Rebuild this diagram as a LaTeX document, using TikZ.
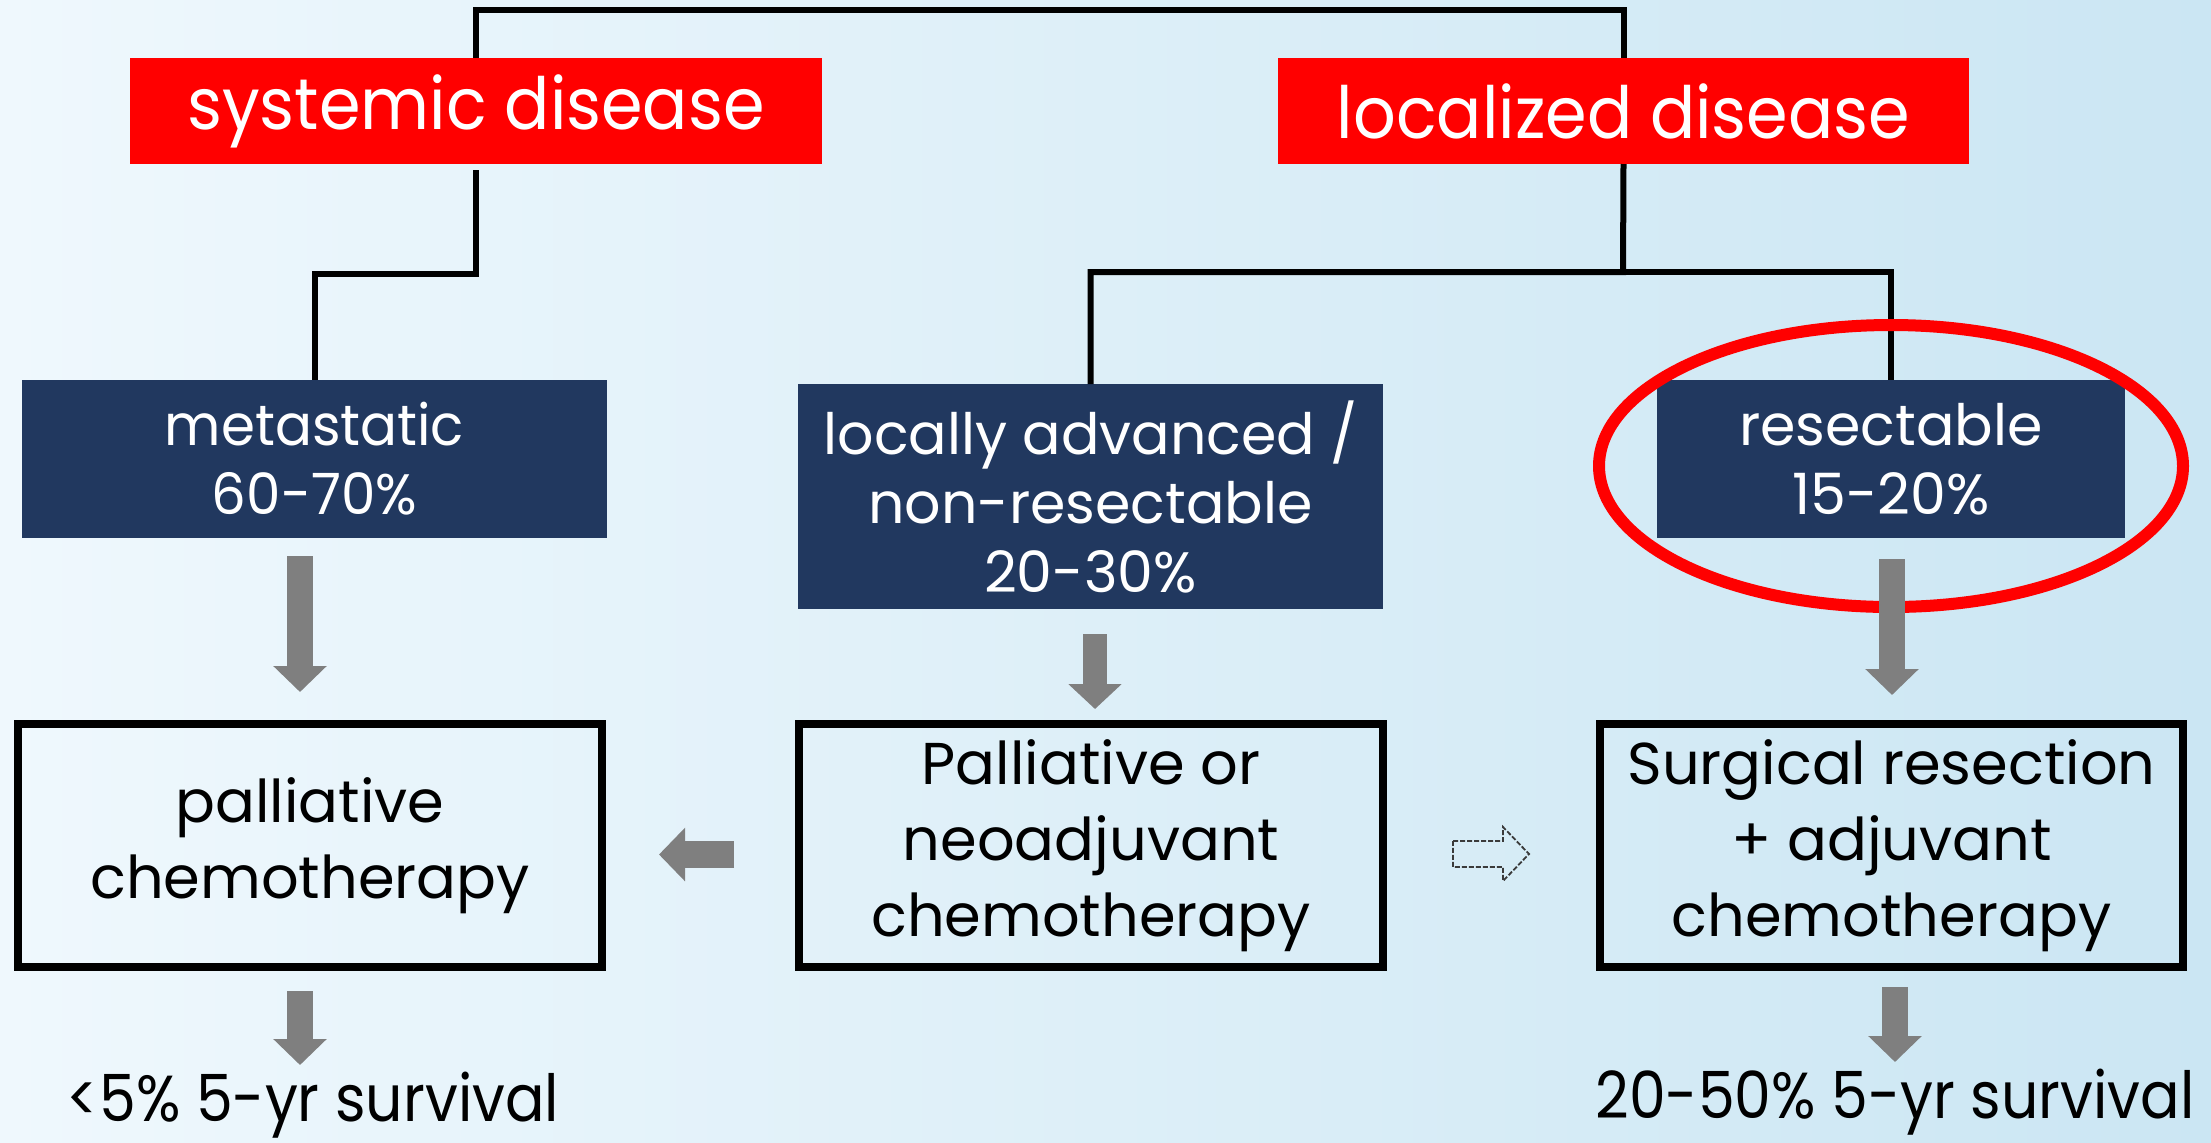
\documentclass[tikz,border=0pt]{standalone}
\usepackage{fontspec}
\setmainfont{Poppins}
\newfontfamily\redfont[FakeStretch=0.93]{Poppins}
\newfontfamily\survfont[FakeStretch=0.9]{Poppins}
\newfontfamily\metfont[FakeStretch=0.96]{Poppins}
\usetikzlibrary{arrows.meta,calc}
\definecolor{navy}{HTML}{21385F}
\definecolor{bgl}{HTML}{EFF8FD}
\definecolor{bgr}{HTML}{CBE6F3}
\definecolor{garr}{HTML}{7F7F7F}
\definecolor{dasharr}{HTML}{3A3A3A}
\begin{document}
\begin{tikzpicture}[x=0.5pt,y=-0.5pt,
  redbox/.style={fill=red, text=white, minimum width=346pt, minimum height=53pt, inner sep=0pt, outer sep=0pt, font=\redfont\fontsize{36}{40}\selectfont},
  navybox/.style={fill=navy, text=white, inner sep=0pt, outer sep=0pt, align=center, font=\fontsize{28.5}{34.5}\selectfont},
  outbox/.style={draw=black, line width=4pt, inner sep=0pt, outer sep=0pt, align=center, minimum width=292pt, minimum height=121.5pt, font=\fontsize{29.5}{38}\selectfont},
  tree/.style={line width=3pt},
  garrow/.style={draw=garr, line width=13pt, -{Triangle[length=13pt,width=26pt]}},
  hollowarrow/.style={draw=dasharr, line width=0.9pt, dash pattern=on 2.5pt off 1pt},
  survtext/.style={inner sep=0pt, outer sep=0pt, anchor=base, font=\survfont\fontsize{32.5}{36}\selectfont}
]
% background
\fill[left color=bgl, right color=bgr] (0,0) rectangle (2211,1142);
\useasboundingbox (0,0) rectangle (2211,1142);

% nodes
\node[redbox] (sys) at (476,111) {systemic disease};
\node[redbox, minimum width=345.5pt] (loc) at (1623.5,111) {localized disease};
\node[navybox, minimum width=292.5pt, minimum height=79pt, font=\metfont\fontsize{28.5}{34.5}\selectfont] (met) at (314.5,459) {metastatic\\60-70\%};
\node[navybox, minimum width=292.5pt, minimum height=112.5pt] (lan) at (1090.5,496.5) {locally advanced /\\non-resectable\\20-30\%};
\node[navybox, minimum width=234pt, minimum height=79pt] (res) at (1891,459) {resectable\\15-20\%};
\node[outbox] (pal) at (310,845.5) {palliative\\chemotherapy};
\node[outbox] (neo) at (1091,845.5) {Palliative or\\neoadjuvant\\chemotherapy};
\node[outbox, minimum width=291.5pt] (sur) at (1891.5,845.5) {Surgical resection\\+ adjuvant\\chemotherapy};
\node[survtext] (s1) at (313,1121) {<5\% 5-yr survival};
\node[survtext] (s2) at (1895,1118) {20-50\% 5-yr survival};

% tree connectors
\coordinate (t1) at (1050,10);
\coordinate (j1) at (395,274);
\coordinate (j2) at (1623,272);
\draw[tree] (sys.north) |- (t1) -| (loc.north);
\draw[tree] ([yshift=-3pt]sys.south) |- (j1) -| (met.north);
\draw[tree] (loc.south) -- (j2) -| (lan.north);
\draw[tree] (j2) -| (res.north);

% highlight ellipse
\draw[red, line width=6pt] (1891,466) ellipse [x radius=146pt, y radius=70.5pt];

% block arrows
\draw[garrow] ([shift={(-14.5,18)}]met.south) -- ([shift={(-10,-32)}]pal.north);
\draw[garrow] ([shift={(-10,24)}]pal.south) -- ([shift={(-13,-56)}]s1.base);
\draw[garrow, line width=12pt, -{Triangle[length=12.5pt,width=26pt]}] ([shift={(4.5,25)}]lan.south) -- ([shift={(4,-15)}]neo.north);
\draw[garrow] ([shift={(1,21)}]res.south) -- ([shift={(0.5,-29)}]sur.north);
\draw[garrow] ([shift={(3.5,20)}]sur.south) -- ([shift={(0,-56)}]s2.base);
\draw[garrow, line width=13.5pt] ([shift={(-65,9)}]neo.west) -- ([shift={(57,9)}]pal.east);

% dashed hollow arrow from neo towards sur
\draw[hollowarrow] ([shift={(70,-4.5)}]neo.east) -- ++(50,0) -- ++(0,-14) -- ++(26,27) -- ++(-26,27) -- ++(0,-14) -- ++(-50,0) -- cycle;
\end{tikzpicture}
\end{document}
